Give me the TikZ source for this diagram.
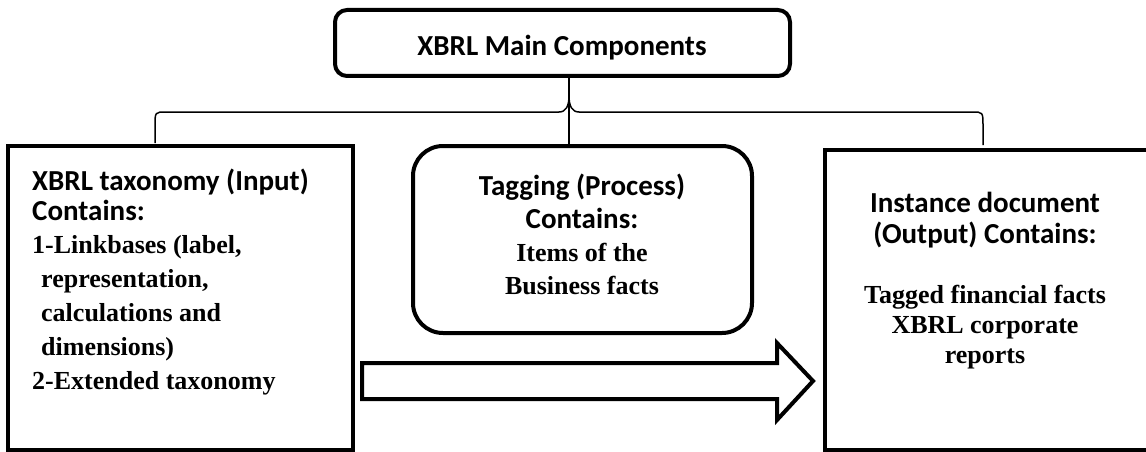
\documentclass[tikz,border=0pt]{standalone}
\usepackage{fontspec}
\setmainfont{Liberation Serif}
\newfontfamily\hdfont{Carlito}
\tikzset{
  boxline/.style={draw=black, line width=4pt, fill=white},
  sq/.style={boxline, rectangle, inner sep=0pt},
  rnd/.style={boxline, rectangle, rounded corners=#1, inner sep=0pt},
  txt/.style={inner sep=0pt, font=\fontsize{26}{30}\selectfont\bfseries},
  hd/.style={\hdfont\fontsize{29}{30}\selectfont\bfseries},
  thin/.style={draw=black, line width=1.5pt},
  blockarrow/.style={draw=black, line width=4pt, line join=miter, fill=white}
}
\newcommand{\hdt}[1]{{\hdfont\fontsize{29}{30}\selectfont\bfseries #1}}
\begin{document}
\begin{tikzpicture}[x=1pt,y=-1pt]
\useasboundingbox (0,0) rectangle (1146,452);
\fill[white] (0,0) rectangle (1146,452);

% boxes
\node[rnd=12pt, minimum width=455pt, minimum height=66pt] (top) at (562.5,43) {};
\node[sq, minimum width=345pt, minimum height=304pt] (lbox) at (180.5,298) {};
\node[rnd=30pt, minimum width=339pt, minimum height=187pt] (mbox) at (582.5,239.5) {};
\node[sq, minimum width=327pt, minimum height=300pt] (rbox) at (988.5,300) {};

% brace and connector
\coordinate (cusp) at (569,96);
\coordinate (bl) at (155,143);
\coordinate (br) at (983,145);
\draw[thin] (cusp |- top.south) -- (cusp |- mbox.north);
\draw[thin] (bl) -- (155,126) .. controls (155,112) .. (166,112) -- (559,112)
  .. controls (566,112) and (569,106) .. (cusp)
  .. controls (569,106) and (572,112) .. (579,112) -- (972,112)
  .. controls (983,112) .. (983,126) -- (br);

% block arrow
\coordinate (atail) at (362,381);
\coordinate (atip) at (813,381);
\draw[blockarrow] (atail |- 0,363) -- (777,363) -- (777,343) -- (atip) -- (777,420) -- (777,399) -- (atail |- 0,399) -- cycle;

% texts
\node[inner sep=0pt, anchor=base] (ttext) at (562,56) {\hdt{XBRL Main Components}};

\node[txt, align=left, anchor=north west] (ltext) at (32,165)
{\rule{0pt}{25pt}\hdt{XBRL taxonomy (Input)}\\
 \hdt{Contains:}\\[3pt]
 1-Linkbases (label,\\[4pt]
 \hspace*{9pt}representation,\\[4pt]
 \hspace*{9pt}calculations and\\[4pt]
 \hspace*{9pt}dimensions)\\[4pt]
 2-Extended taxonomy};

\node[txt, align=center, anchor=north] (mtext) at (582,170)
{\rule{0pt}{25pt}\hdt{Tagging (Process)}\\[3pt]
 \hdt{Contains:}\\[3pt]
 Items of the\\[3pt]
 Business facts};

\node[txt, align=center, anchor=north] (rtext) at (985,187)
{\rule{0pt}{25pt}\hdt{Instance document}\\[1pt]
 \hdt{(Output) Contains:}\\[30pt]
 Tagged financial facts\\
 XBRL corporate\\
 reports};
\end{tikzpicture}
\end{document}
